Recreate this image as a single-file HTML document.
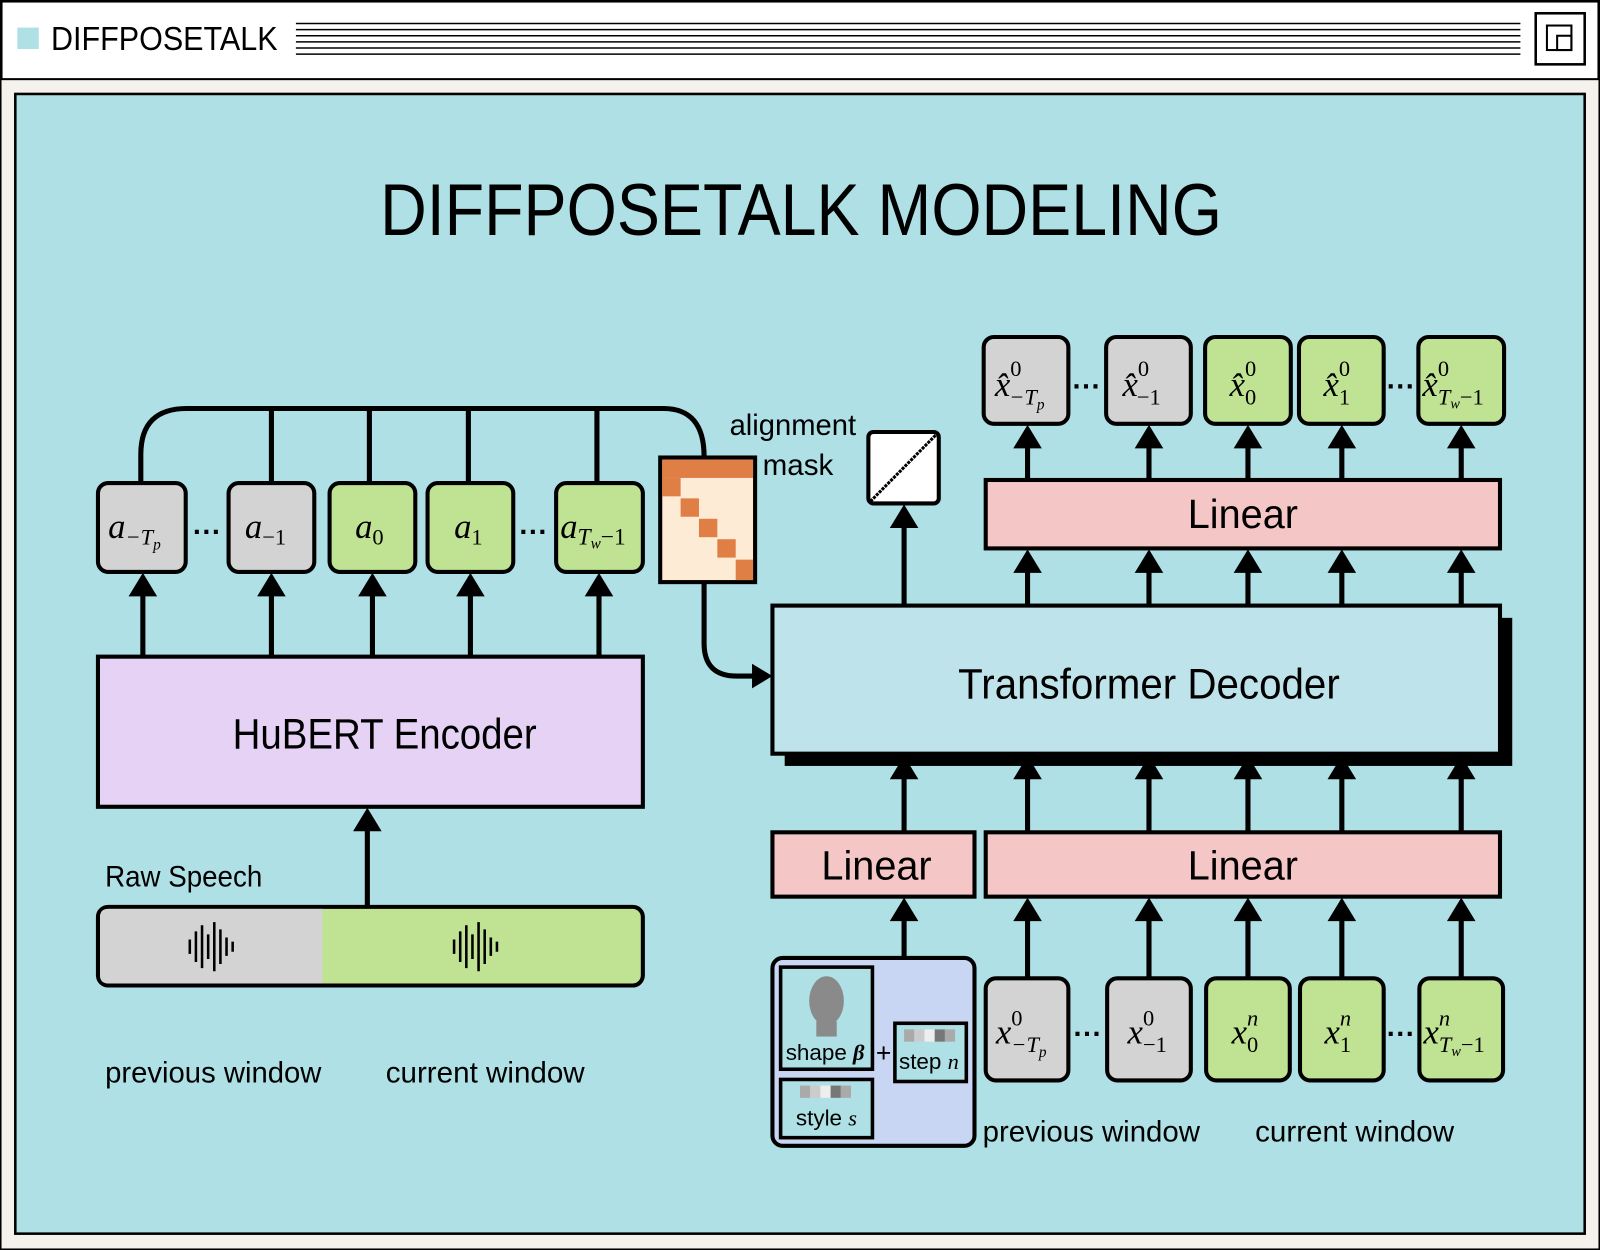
<!DOCTYPE html>
<html><head><meta charset="utf-8"><style>
html,body{margin:0;padding:0;background:#fff;}
svg{display:block;}
.s{font-family:"Liberation Sans",sans-serif;}
.m{font-family:"Liberation Serif",serif;font-style:italic;}
</style></head><body>
<svg width="1600" height="1250" viewBox="0 0 1568 1224" preserveAspectRatio="none" xmlns="http://www.w3.org/2000/svg">
<rect x="0" y="0" width="1568" height="1224" fill="#f5f2ee" stroke="#000" stroke-width="3"/>
<rect x="1.5" y="1.5" width="1565" height="76" fill="#fff" stroke="#000" stroke-width="2"/>
<rect x="17" y="27" width="21" height="21" fill="#aee0e6"/>
<text x="50" y="49" class="s" font-size="33" fill="#000" textLength="222" lengthAdjust="spacingAndGlyphs">DIFFPOSETALK</text>
<g stroke="#000" stroke-width="1.5">
<line x1="290" y1="23" x2="1490" y2="23"/><line x1="290" y1="29" x2="1490" y2="29"/><line x1="290" y1="35" x2="1490" y2="35"/><line x1="290" y1="41" x2="1490" y2="41"/><line x1="290" y1="47" x2="1490" y2="47"/><line x1="290" y1="53" x2="1490" y2="53"/>
</g>
<rect x="1505" y="13" width="48" height="50" fill="#fff" stroke="#000" stroke-width="2.5"/>
<rect x="1516" y="25" width="24" height="24" fill="none" stroke="#000" stroke-width="2"/>
<rect x="1526" y="35" width="14" height="14" fill="none" stroke="#000" stroke-width="2"/>
<rect x="15" y="92" width="1538" height="1116" fill="#aee0e6" stroke="#000" stroke-width="2.5"/>
<text x="785" y="230" text-anchor="middle" class="s" font-size="72" fill="#000" textLength="825" lengthAdjust="spacingAndGlyphs">DIFFPOSETALK MODELING</text>

<g fill="none" stroke="#000" stroke-width="5">
<path d="M138 472 V445 Q138 400 183 400 H650 Q690 400 690 447"/>
<line x1="266" y1="400" x2="266" y2="472"/><line x1="362" y1="400" x2="362" y2="472"/><line x1="459" y1="400" x2="459" y2="472"/><line x1="585" y1="400" x2="585" y2="472"/>
<path d="M690 570 V630 Q690 662 722 662 H740"/>
</g>
<polygon points="757,662 737,650 737,674" fill="#000"/>

<g stroke="#000" stroke-width="4">
<rect x="96" y="473" width="86" height="87" rx="10" fill="#d3d3d3"/>
<rect x="224" y="473" width="84" height="87" rx="10" fill="#d3d3d3"/>
<rect x="323" y="473" width="84" height="87" rx="10" fill="#bfe293"/>
<rect x="419" y="473" width="84" height="87" rx="10" fill="#bfe293"/>
<rect x="545" y="473" width="85" height="87" rx="10" fill="#bfe293"/>
</g>
<g class="m" font-size="34" fill="#000">
<text x="106" y="527">a<tspan font-size="22" dy="6">−T</tspan><tspan font-size="15" dy="5">p</tspan></text>
<text x="240" y="527">a<tspan font-size="22" dy="6" font-style="normal">−1</tspan></text>
<text x="348" y="527">a<tspan font-size="22" dy="6" font-style="normal">0</tspan></text>
<text x="445" y="527">a<tspan font-size="22" dy="6" font-style="normal">1</tspan></text>
<text x="549" y="527">a<tspan font-size="23" dy="6">T</tspan><tspan font-size="15" dy="4">w</tspan><tspan font-size="23" dy="-4" font-style="normal">−1</tspan></text>
</g>
<text x="203" y="530" class="s" font-size="28" text-anchor="middle" font-weight="bold">···</text>
<text x="523" y="530" class="s" font-size="28" text-anchor="middle" font-weight="bold">···</text>

<rect x="647" y="448" width="93" height="122" fill="#fdebd6" stroke="#000" stroke-width="4"/>
<g fill="#e07f45">
<rect x="649" y="450" width="89" height="18"/>
<rect x="649" y="468" width="18" height="18"/>
<rect x="667" y="488" width="18" height="18"/>
<rect x="685" y="508" width="18" height="18"/>
<rect x="703" y="528" width="18" height="18"/>
<rect x="721" y="548" width="17" height="20"/>
</g>
<text x="777" y="426" class="s" font-size="29" text-anchor="middle" textLength="124" lengthAdjust="spacingAndGlyphs">alignment</text>
<text x="782" y="465" class="s" font-size="29" text-anchor="middle">mask</text>

<rect x="96" y="643" width="534" height="147" fill="#e6d2f5" stroke="#000" stroke-width="4"/>
<text x="377" y="733" class="s" font-size="42" text-anchor="middle" textLength="298" lengthAdjust="spacingAndGlyphs">HuBERT Encoder</text>
<g stroke="#000" stroke-width="5">
<line x1="140" y1="643" x2="140" y2="580"/><line x1="266" y1="643" x2="266" y2="580"/><line x1="365" y1="643" x2="365" y2="580"/><line x1="461" y1="643" x2="461" y2="580"/><line x1="587" y1="643" x2="587" y2="580"/>
<line x1="360" y1="888" x2="360" y2="810"/>
</g>
<g fill="#000">
<polygon points="140,561 126,584 154,584"/><polygon points="266,561 252,584 280,584"/><polygon points="365,561 351,584 379,584"/><polygon points="461,561 447,584 475,584"/><polygon points="587,561 573,584 601,584"/>
<polygon points="360,791 346,814 374,814"/>
</g>
<text x="103" y="868" class="s" font-size="29" textLength="154" lengthAdjust="spacingAndGlyphs">Raw Speech</text>
<rect x="96" y="888" width="534" height="77" rx="10" fill="#bfe293" stroke="#000" stroke-width="4"/>
<path d="M106 890 H316 V963 H106 Q98 963 98 955 V898 Q98 890 106 890Z" fill="#d3d3d3"/>
<g stroke="#000" stroke-width="2.5">
<path d="M186 920v14M192 912v30M198 906v42M204 915v24M210 903v48M216 910v34M222 918v18M228 922v10"/>
<path d="M445 920v14M451 912v30M457 906v42M463 915v24M469 903v48M475 910v34M481 918v18M487 922v10"/>
</g>
<text x="103" y="1060" class="s" font-size="29" textLength="212" lengthAdjust="spacingAndGlyphs">previous window</text>
<text x="378" y="1060" class="s" font-size="29" textLength="195" lengthAdjust="spacingAndGlyphs">current window</text>

<rect x="851" y="423" width="69" height="70" rx="5" fill="#fff" stroke="#000" stroke-width="4"/>
<line x1="853" y1="491" x2="918" y2="425" stroke="#000" stroke-width="3" stroke-dasharray="3 1"/>
<line x1="886" y1="593" x2="886" y2="512" stroke="#000" stroke-width="5"/>
<polygon points="886,494 872,517 900,517" fill="#000"/>

<rect x="769" y="605" width="713" height="145" fill="#000"/>
<rect x="757" y="593" width="713" height="145" fill="#bfe3ea" stroke="#000" stroke-width="4"/>
<text x="1126" y="684" class="s" font-size="42" text-anchor="middle" textLength="374" lengthAdjust="spacingAndGlyphs">Transformer Decoder</text>

<rect x="966" y="470" width="504" height="67" fill="#f5c6c6" stroke="#000" stroke-width="4"/>
<text x="1218" y="517" class="s" font-size="40" text-anchor="middle" textLength="108" lengthAdjust="spacingAndGlyphs">Linear</text>
<g stroke="#000" stroke-width="5">
<line x1="1007" y1="593" x2="1007" y2="556"/><line x1="1126" y1="593" x2="1126" y2="556"/><line x1="1223" y1="593" x2="1223" y2="556"/><line x1="1315" y1="593" x2="1315" y2="556"/><line x1="1432" y1="593" x2="1432" y2="556"/>
<line x1="1007" y1="470" x2="1007" y2="434"/><line x1="1126" y1="470" x2="1126" y2="434"/><line x1="1223" y1="470" x2="1223" y2="434"/><line x1="1315" y1="470" x2="1315" y2="434"/><line x1="1432" y1="470" x2="1432" y2="434"/>
</g>
<g fill="#000">
<polygon points="1007,538 993,561 1021,561"/><polygon points="1126,538 1112,561 1140,561"/><polygon points="1223,538 1209,561 1237,561"/><polygon points="1315,538 1301,561 1329,561"/><polygon points="1432,538 1418,561 1446,561"/>
<polygon points="1007,416 993,439 1021,439"/><polygon points="1126,416 1112,439 1140,439"/><polygon points="1223,416 1209,439 1237,439"/><polygon points="1315,416 1301,439 1329,439"/><polygon points="1432,416 1418,439 1446,439"/>
</g>
<g stroke="#000" stroke-width="4">
<rect x="964" y="330" width="83" height="85" rx="10" fill="#d3d3d3"/>
<rect x="1084" y="330" width="83" height="85" rx="10" fill="#d3d3d3"/>
<rect x="1181" y="330" width="84" height="85" rx="10" fill="#bfe293"/>
<rect x="1273" y="330" width="83" height="85" rx="10" fill="#bfe293"/>
<rect x="1390" y="330" width="84" height="85" rx="10" fill="#bfe293"/>
</g>
<g class="m" font-size="34" fill="#000">
<text x="975" y="388">x̂<tspan font-size="22" dy="-20" font-style="normal">0</tspan><tspan font-size="22" dy="28" dx="-12">−T</tspan><tspan font-size="15" dy="5">p</tspan></text>
<text x="1100" y="388">x̂<tspan font-size="22" dy="-20" font-style="normal">0</tspan><tspan font-size="22" dy="28" dx="-12" font-style="normal">−1</tspan></text>
<text x="1205" y="388">x̂<tspan font-size="22" dy="-20" font-style="normal">0</tspan><tspan font-size="22" dy="28" dx="-11" font-style="normal">0</tspan></text>
<text x="1297" y="388">x̂<tspan font-size="22" dy="-20" font-style="normal">0</tspan><tspan font-size="22" dy="28" dx="-11" font-style="normal">1</tspan></text>
<text x="1394" y="388">x̂<tspan font-size="22" dy="-20" font-style="normal">0</tspan><tspan font-size="22" dy="28" dx="-11">T</tspan><tspan font-size="14" dy="4">w</tspan><tspan font-size="22" dy="-4" font-style="normal">−1</tspan></text>
</g>
<text x="1065" y="388" class="s" font-size="28" text-anchor="middle" font-weight="bold">···</text>
<text x="1373" y="388" class="s" font-size="28" text-anchor="middle" font-weight="bold">···</text>

<rect x="757" y="815" width="198" height="63" fill="#f5c6c6" stroke="#000" stroke-width="4"/>
<text x="859" y="861" class="s" font-size="40" text-anchor="middle" textLength="108" lengthAdjust="spacingAndGlyphs">Linear</text>
<rect x="966" y="815" width="504" height="63" fill="#f5c6c6" stroke="#000" stroke-width="4"/>
<text x="1218" y="861" class="s" font-size="40" text-anchor="middle" textLength="108" lengthAdjust="spacingAndGlyphs">Linear</text>
<g stroke="#000" stroke-width="5">
<line x1="886" y1="815" x2="886" y2="758"/><line x1="1007" y1="815" x2="1007" y2="758"/><line x1="1126" y1="815" x2="1126" y2="758"/><line x1="1223" y1="815" x2="1223" y2="758"/><line x1="1315" y1="815" x2="1315" y2="758"/><line x1="1432" y1="815" x2="1432" y2="758"/>
<line x1="886" y1="938" x2="886" y2="898"/><line x1="1007" y1="958" x2="1007" y2="898"/><line x1="1126" y1="958" x2="1126" y2="898"/><line x1="1223" y1="958" x2="1223" y2="898"/><line x1="1315" y1="958" x2="1315" y2="898"/><line x1="1432" y1="958" x2="1432" y2="898"/>
</g>
<g fill="#000">
<polygon points="886,740 872,763 900,763"/><polygon points="1007,740 993,763 1021,763"/><polygon points="1126,740 1112,763 1140,763"/><polygon points="1223,740 1209,763 1237,763"/><polygon points="1315,740 1301,763 1329,763"/><polygon points="1432,740 1418,763 1446,763"/>
<polygon points="886,879 872,902 900,902"/><polygon points="1007,879 993,902 1021,902"/><polygon points="1126,879 1112,902 1140,902"/><polygon points="1223,879 1209,902 1237,902"/><polygon points="1315,879 1301,902 1329,902"/><polygon points="1432,879 1418,902 1446,902"/>
</g>

<rect x="757" y="938" width="198" height="184" rx="10" fill="#c9d6f3" stroke="#000" stroke-width="4"/>
<rect x="765" y="947" width="90" height="100" fill="#aee0e6" stroke="#000" stroke-width="3.5"/>
<ellipse cx="810" cy="980" rx="17" ry="24" fill="#8a8a8a"/>
<rect x="800" y="1000" width="20" height="15" fill="#8a8a8a"/>
<text x="770" y="1038" class="s" font-size="22">shape <tspan class="m" font-weight="bold">β</tspan></text>
<text x="866" y="1040" class="s" font-size="26" text-anchor="middle">+</text>
<rect x="877" y="1002" width="70" height="57" fill="#aee0e6" stroke="#000" stroke-width="3.5"/>
<g><rect x="886" y="1008" width="10" height="12" fill="#aaa"/><rect x="896" y="1008" width="10" height="12" fill="#ccc"/><rect x="906" y="1008" width="10" height="12" fill="#eee"/><rect x="916" y="1008" width="10" height="12" fill="#777"/><rect x="926" y="1008" width="10" height="12" fill="#aaa"/></g>
<text x="881" y="1047" class="s" font-size="22">step <tspan class="m">n</tspan></text>
<rect x="765" y="1057" width="90" height="57" fill="#aee0e6" stroke="#000" stroke-width="3.5"/>
<g><rect x="784" y="1063" width="10" height="12" fill="#aaa"/><rect x="794" y="1063" width="10" height="12" fill="#ccc"/><rect x="804" y="1063" width="10" height="12" fill="#eee"/><rect x="814" y="1063" width="10" height="12" fill="#777"/><rect x="824" y="1063" width="10" height="12" fill="#aaa"/></g>
<text x="780" y="1102" class="s" font-size="22">style <tspan class="m">s</tspan></text>

<g stroke="#000" stroke-width="4">
<rect x="966" y="958" width="81" height="100" rx="10" fill="#d3d3d3"/>
<rect x="1085" y="958" width="82" height="100" rx="10" fill="#d3d3d3"/>
<rect x="1182" y="958" width="82" height="100" rx="10" fill="#bfe293"/>
<rect x="1274" y="958" width="82" height="100" rx="10" fill="#bfe293"/>
<rect x="1391" y="958" width="82" height="100" rx="10" fill="#bfe293"/>
</g>
<g class="m" font-size="34" fill="#000">
<text x="976" y="1022">x<tspan font-size="22" dy="-18" font-style="normal">0</tspan><tspan font-size="22" dy="26" dx="-11">−T</tspan><tspan font-size="15" dy="5">p</tspan></text>
<text x="1105" y="1022">x<tspan font-size="22" dy="-18" font-style="normal">0</tspan><tspan font-size="22" dy="26" dx="-11" font-style="normal">−1</tspan></text>
<text x="1207" y="1022">x<tspan font-size="22" dy="-18">n</tspan><tspan font-size="22" dy="26" dx="-11" font-style="normal">0</tspan></text>
<text x="1298" y="1022">x<tspan font-size="22" dy="-18">n</tspan><tspan font-size="22" dy="26" dx="-11" font-style="normal">1</tspan></text>
<text x="1395" y="1022">x<tspan font-size="22" dy="-18">n</tspan><tspan font-size="22" dy="26" dx="-11">T</tspan><tspan font-size="14" dy="4">w</tspan><tspan font-size="22" dy="-4" font-style="normal">−1</tspan></text>
</g>
<text x="1066" y="1022" class="s" font-size="28" text-anchor="middle" font-weight="bold">···</text>
<text x="1373" y="1022" class="s" font-size="28" text-anchor="middle" font-weight="bold">···</text>
<text x="963" y="1118" class="s" font-size="29" textLength="213" lengthAdjust="spacingAndGlyphs">previous window</text>
<text x="1230" y="1118" class="s" font-size="29" textLength="195" lengthAdjust="spacingAndGlyphs">current window</text>
</svg>
</body></html>
